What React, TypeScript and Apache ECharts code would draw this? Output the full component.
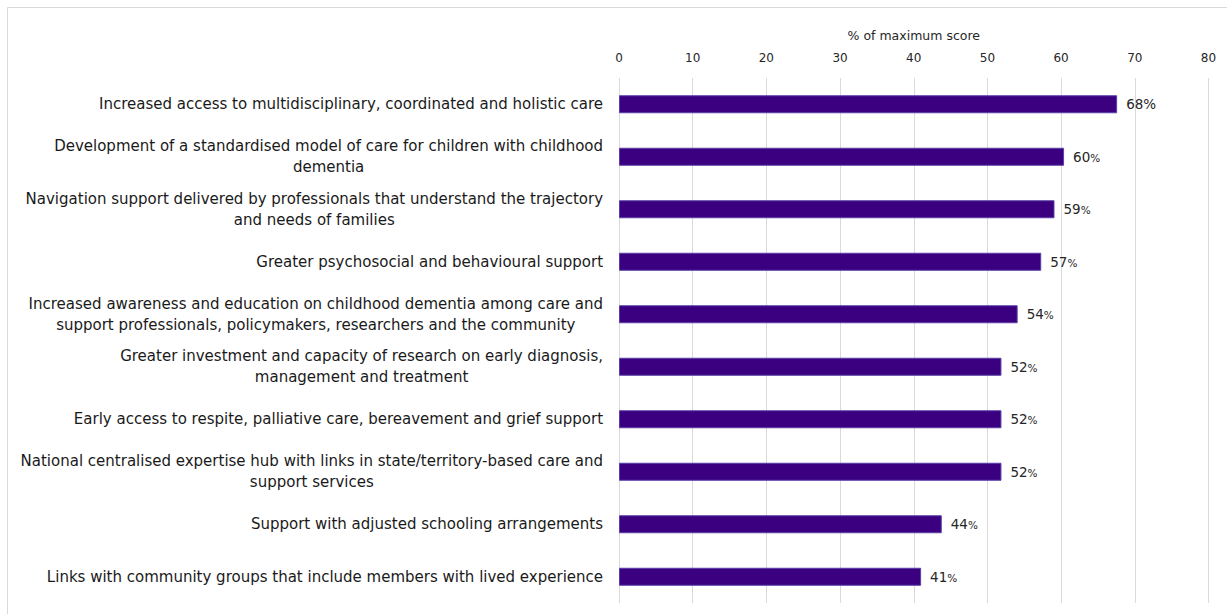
import React, { useEffect, useRef } from "react";
import * as echarts from "echarts";

const categories: string[] = [
  "Increased access to multidisciplinary, coordinated and holistic care",
  "Development of a standardised model of care for children with childhood\ndementia",
  "Navigation support delivered by professionals that understand the trajectory\nand needs of families",
  "Greater psychosocial and behavioural support",
  "Increased awareness and education on childhood dementia among care and\nsupport professionals, policymakers, researchers and the community",
  "Greater investment and capacity of research on early diagnosis,\nmanagement and treatment",
  "Early access to respite, palliative care, bereavement and grief support",
  "National centralised expertise hub with links in state/territory-based care and\nsupport services",
  "Support with adjusted schooling arrangements",
  "Links with community groups that include members with lived experience",
];

const values: number[] = [67.6, 60.4, 59.1, 57.3, 54.1, 51.9, 51.9, 51.9, 43.8, 41.0];
const valueLabels: string[] = ["68", "60", "59", "57", "54", "52", "52", "52", "44", "41"];
const xTicks: number[] = [0, 10, 20, 30, 40, 50, 60, 70, 80];

const FONT = "DejaVu Sans";

export default function App() {
  const ref = useRef<HTMLDivElement>(null);
  useEffect(() => {
    if (!ref.current) return;
    const chart = echarts.init(ref.current, undefined, { renderer: "svg" });
    chart.setOption({
      animation: false,
      backgroundColor: "#ffffff",
      textStyle: { fontFamily: FONT },
      graphic: [
        {
          type: "rect",
          shape: { x: 7.5, y: 7.5, width: 1240, height: 640 },
          style: { fill: "none", stroke: "#d9d9d9", lineWidth: 1 },
          silent: true,
        },
      ],
      grid: { left: 619, right: 18.5, top: 78, bottom: 11, containLabel: false },
      xAxis: {
        type: "value",
        position: "top",
        min: xTicks[0],
        max: xTicks[xTicks.length - 1],
        interval: 10,
        name: "% of maximum score",
        nameLocation: "middle",
        nameGap: 36,
        nameTextStyle: { fontFamily: FONT, fontSize: 12.5, color: "#262626" },
        axisLine: { show: false },
        axisTick: { show: false },
        axisLabel: { fontFamily: FONT, fontSize: 12, color: "#262626", margin: 14 },
        splitLine: { show: true, lineStyle: { color: "#d9d9d9", width: 1 } },
      },
      yAxis: {
        type: "category",
        inverse: true,
        data: categories,
        axisLine: { show: false },
        axisTick: { show: false },
        axisLabel: {
          margin: 16,
          align: "right",
          fontFamily: FONT,
          fontSize: 15,
          color: "#1a1a1a",
          lineHeight: 21,
          formatter: (v: string) =>
            v
              .split("\n")
              .map((l) => `{c|${l}}`)
              .join("\n"),
          rich: {
            c: { align: "center", fontFamily: FONT, fontSize: 15, color: "#1a1a1a", lineHeight: 21 },
          },
        },
      },
      series: [
        {
          type: "bar",
          data: values,
          barWidth: 18,
          itemStyle: { color: "#3a0080", borderColor: "#5b3fa8", borderWidth: 1 },
          label: {
            show: true,
            position: "right",
            distance: 9,
            color: "#262626",
            fontFamily: FONT,
            fontSize: 13.5,
            formatter: (p: any) =>
              p.dataIndex === 0
                ? `{n|${valueLabels[p.dataIndex]}}{b|%}`
                : `{n|${valueLabels[p.dataIndex]}}{s|%}`,
            rich: {
              n: { fontFamily: FONT, fontSize: 13.5, color: "#262626" },
              b: { fontFamily: FONT, fontSize: 13.5, color: "#262626" },
              s: { fontFamily: FONT, fontSize: 10.5, color: "#262626", padding: [2, 0, 0, 0] },
            },
          },
        },
      ],
    });
    return () => chart.dispose();
  }, []);
  return (
    <div
      ref={ref}
      style={{ position: "fixed", left: 0, top: 0, width: 1227, height: 614 }}
    />
  );
}
